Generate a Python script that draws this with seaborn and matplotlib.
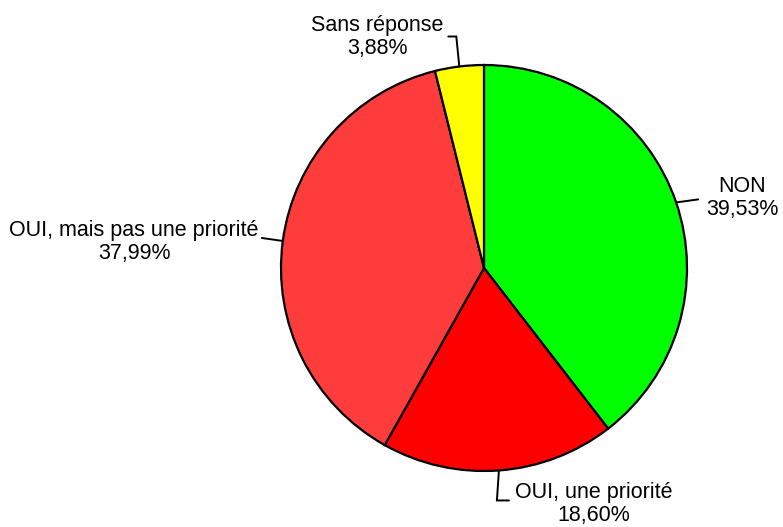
import numpy as np
import matplotlib
matplotlib.use("Agg")
import matplotlib.pyplot as plt
import seaborn as sns

# Données
categories = ["NON", "OUI, une priorité", "OUI, mais pas une priorité", "Sans réponse"]
values = [39.53, 18.60, 37.99, 3.88]
colors = ["#00FF00", "#FF0000", "#FF3C3C", "#FFFF00"]
pct_labels = ["39,53%", "18,60%", "37,99%", "3,88%"]

sns.set_style("white")
plt.rcParams['font.family'] = ['Liberation Sans', 'DejaVu Sans']

W, H = 783, 527
fig = plt.figure(figsize=(W / 100, H / 100), dpi=100)
ax = fig.add_axes([0, 0, 1, 1])

cx, cy, r = 484, H - 268, 203
wedges, _ = ax.pie(values, colors=colors, startangle=90, counterclock=False,
                   center=(cx, cy), radius=r,
                   wedgeprops=dict(edgecolor="black", linewidth=1.6))
ax.set_aspect("auto")
ax.set_xlim(0, W)
ax.set_ylim(0, H)
ax.axis("off")

# placement des étiquettes (pixels, origine en haut à gauche)
# (points du trait de rappel relatifs au bord, centre du texte)
label_layout = [
    ([(22, -3)], (742, 198)),
    ([(-2, 30), (10, 30)], (594, 504)),
    ([(-21, -3)], (134, 242)),
    ([(-3, -30), (-11, -30)], (377, 37)),
]

for w, cat, pct, (pts, (tx, ty)) in zip(wedges, categories, pct_labels, label_layout):
    ang = np.deg2rad((w.theta1 + w.theta2) / 2)
    ex, ey = cx + r * np.cos(ang), cy + r * np.sin(ang)
    xs = [ex] + [ex + p[0] for p in pts]
    ys = [ey] + [ey - p[1] for p in pts]
    ax.plot(xs, ys, color="black", lw=1.4, solid_joinstyle="miter")
    ax.text(tx, H - ty, f"{cat}\n{pct}", ha="center", va="center",
            fontsize=15.5, linespacing=1.15, color="black")

fig.savefig("out.png", dpi=100)
